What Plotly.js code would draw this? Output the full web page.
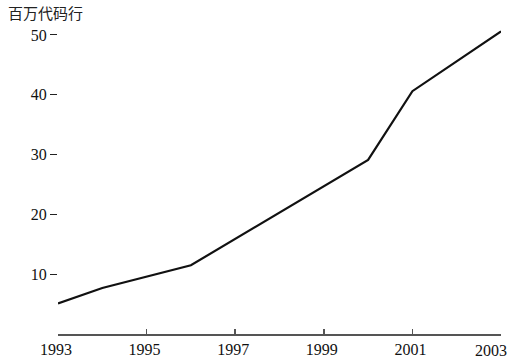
<!DOCTYPE html>
<html>
<head>
<meta charset="utf-8">
<script src="https://cdn.plot.ly/plotly-3.0.1.min.js"></script>
<style>html,body{margin:0;padding:0;background:#fff;}#chart{width:515px;height:364px;}</style>
</head>
<body>
<div id="chart"></div>
<script>
const years = [1993, 1994, 1996, 2000, 2001, 2003];
const linesMillions = [5.1, 7.7, 11.5, 29.1, 40.6, 50.6];
const xTickVals = [1993, 1995, 1997, 1999, 2001, 2003];
const yTickVals = [10, 20, 30, 40, 50];
const yTitle = '百万代码行';

const lastX = xTickVals[xTickVals.length - 1];
const tickFont = {family: 'Liberation Serif', size: 16, color: '#111'};

const trace = {
  x: years,
  y: linesMillions,
  type: 'scatter',
  mode: 'lines',
  line: {color: '#111', width: 2.2},
  hoverinfo: 'skip'
};

const layout = {
  width: 515,
  height: 364,
  margin: {l: 58, r: 14, t: 23, b: 30, pad: 0},
  paper_bgcolor: '#fff',
  plot_bgcolor: '#fff',
  showlegend: false,
  title: {
    text: yTitle,
    xref: 'container', yref: 'container',
    x: 8/515, xanchor: 'left',
    y: 1 - 14/364, yanchor: 'middle',
    font: {family: 'Noto Sans CJK SC', size: 15, color: '#222'}
  },
  xaxis: {
    range: [1993, 2003],
    tickvals: xTickVals,
    // last label drawn as an annotation so it can be nudged inside the window
    ticktext: xTickVals.map(v => v === lastX ? '' : String(v)),
    showgrid: false,
    zeroline: false,
    showline: true,
    linecolor: '#555',
    linewidth: 1.5,
    ticks: 'inside',
    ticklen: 5,
    tickwidth: 1.5,
    tickcolor: '#555',
    ticklabelshift: -2,
    tickfont: tickFont,
    fixedrange: true
  },
  yaxis: {
    range: [0, 52],
    tickvals: yTickVals,
    ticktext: yTickVals.map(String),
    showgrid: false,
    zeroline: false,
    showline: false,
    ticks: 'outside',
    ticklen: 7,
    tickwidth: 1,
    tickcolor: '#222',
    tickfont: tickFont,
    fixedrange: true
  },
  annotations: [{
    text: String(lastX),
    x: lastX, xref: 'x',
    y: 0, yref: 'paper',
    xanchor: 'right', yanchor: 'middle',
    xshift: 8, yshift: -16,
    showarrow: false,
    font: tickFont
  }]
};

Plotly.newPlot('chart', [trace], layout, {displayModeBar: false, staticPlot: true});
</script>
</body>
</html>
